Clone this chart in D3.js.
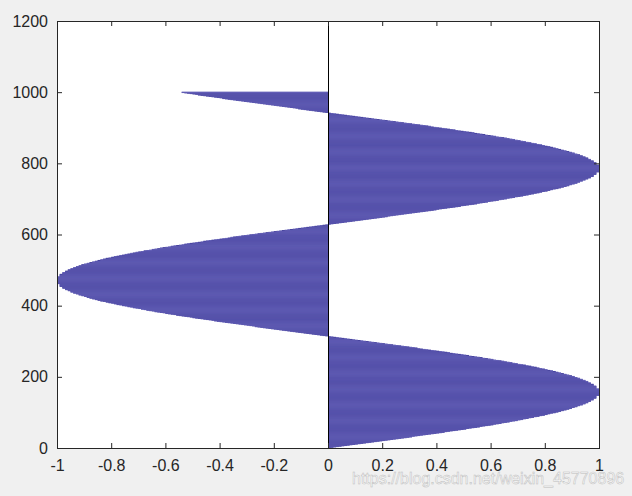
<!DOCTYPE html>
<html>
<head>
<meta charset="utf-8">
<script src="https://cdn.jsdelivr.net/npm/d3@7"></script>
<style>
  body { margin: 0; background: #f0f0f0; }
  svg { display: block; font-family: "Liberation Sans", Arial, sans-serif; }
</style>
</head>
<body>
<script>
// bar lengths in hundredths, one per row 1..1000
const barValues = [
  1,2,3,4,5,6,7,8,9,10,
  11,12,13,14,15,16,17,18,19,20,
  21,22,23,24,25,26,27,28,29,30,
  31,31,32,33,34,35,36,37,38,39,
  40,41,42,43,43,44,45,46,47,48,
  49,50,51,51,52,53,54,55,56,56,
  57,58,59,60,61,61,62,63,64,64,
  65,66,67,67,68,69,70,70,71,72,
  72,73,74,74,75,76,76,77,78,78,
  79,80,80,81,81,82,82,83,84,84,
  85,85,86,86,87,87,88,88,89,89,
  90,90,90,91,91,92,92,92,93,93,
  94,94,94,95,95,95,96,96,96,96,
  97,97,97,97,98,98,98,98,98,99,
  99,99,99,99,99,99,99,100,100,100,
  100,100,100,100,100,100,100,100,100,100,
  100,100,100,100,100,100,99,99,99,99,
  99,99,99,99,98,98,98,98,98,97,
  97,97,97,96,96,96,96,95,95,95,
  94,94,94,93,93,93,92,92,91,91,
  91,90,90,89,89,88,88,87,87,86,
  86,85,85,84,84,83,83,82,81,81,
  80,80,79,78,78,77,77,76,75,75,
  74,73,73,72,71,70,70,69,68,68,
  67,66,65,65,64,63,62,61,61,60,
  59,58,57,57,56,55,54,53,52,52,
  51,50,49,48,47,46,45,45,44,43,
  42,41,40,39,38,37,36,35,34,33,
  33,32,31,30,29,28,27,26,25,24,
  23,22,21,20,19,18,17,16,15,14,
  13,12,11,10,9,8,7,6,5,4,
  3,2,1,0,-1,-2,-3,-4,-5,-6,
  -7,-8,-9,-10,-11,-12,-13,-14,-15,-16,
  -17,-18,-19,-20,-21,-22,-23,-24,-25,-26,
  -27,-27,-28,-29,-30,-31,-32,-33,-34,-35,
  -36,-37,-38,-39,-40,-41,-42,-42,-43,-44,
  -45,-46,-47,-48,-49,-50,-50,-51,-52,-53,
  -54,-55,-56,-56,-57,-58,-59,-60,-60,-61,
  -62,-63,-64,-64,-65,-66,-67,-67,-68,-69,
  -69,-70,-71,-72,-72,-73,-74,-74,-75,-76,
  -76,-77,-78,-78,-79,-79,-80,-81,-81,-82,
  -82,-83,-84,-84,-85,-85,-86,-86,-87,-87,
  -88,-88,-89,-89,-89,-90,-90,-91,-91,-92,
  -92,-92,-93,-93,-94,-94,-94,-95,-95,-95,
  -95,-96,-96,-96,-97,-97,-97,-97,-98,-98,
  -98,-98,-98,-99,-99,-99,-99,-99,-99,-99,
  -99,-100,-100,-100,-100,-100,-100,-100,-100,-100,
  -100,-100,-100,-100,-100,-100,-100,-100,-100,-100,
  -100,-99,-99,-99,-99,-99,-99,-99,-98,-98,
  -98,-98,-98,-97,-97,-97,-97,-96,-96,-96,
  -96,-95,-95,-95,-94,-94,-94,-93,-93,-93,
  -92,-92,-91,-91,-91,-90,-90,-89,-89,-88,
  -88,-87,-87,-86,-86,-85,-85,-84,-84,-83,
  -83,-82,-82,-81,-80,-80,-79,-79,-78,-77,
  -77,-76,-75,-75,-74,-73,-73,-72,-71,-71,
  -70,-69,-68,-68,-67,-66,-65,-65,-64,-63,
  -62,-62,-61,-60,-59,-58,-58,-57,-56,-55,
  -54,-53,-53,-52,-51,-50,-49,-48,-47,-46,
  -46,-45,-44,-43,-42,-41,-40,-39,-38,-37,
  -36,-36,-35,-34,-33,-32,-31,-30,-29,-28,
  -27,-26,-25,-24,-23,-22,-21,-20,-19,-18,
  -17,-16,-15,-14,-13,-12,-11,-10,-9,-8,
  -7,-6,-5,-4,-3,-2,-1,0,1,2,
  3,4,5,6,7,8,9,10,11,12,
  13,14,15,16,17,18,19,20,21,22,
  22,23,24,25,26,27,28,29,30,31,
  32,33,34,35,36,37,38,39,40,40,
  41,42,43,44,45,46,47,48,49,49,
  50,51,52,53,54,55,55,56,57,58,
  59,59,60,61,62,63,63,64,65,66,
  66,67,68,69,69,70,71,72,72,73,
  74,74,75,76,76,77,78,78,79,79,
  80,81,81,82,82,83,83,84,85,85,
  86,86,87,87,88,88,89,89,89,90,
  90,91,91,92,92,92,93,93,93,94,
  94,94,95,95,95,96,96,96,97,97,
  97,97,98,98,98,98,98,98,99,99,
  99,99,99,99,99,100,100,100,100,100,
  100,100,100,100,100,100,100,100,100,100,
  100,100,100,100,100,99,99,99,99,99,
  99,99,98,98,98,98,98,97,97,97,
  97,96,96,96,96,95,95,95,94,94,
  94,93,93,93,92,92,91,91,91,90,
  90,89,89,88,88,87,87,86,86,85,
  85,84,84,83,83,82,82,81,80,80,
  79,79,78,77,77,76,75,75,74,73,
  73,72,71,71,70,69,69,68,67,66,
  66,65,64,63,62,62,61,60,59,58,
  58,57,56,55,54,54,53,52,51,50,
  49,48,47,47,46,45,44,43,42,41,
  40,39,38,38,37,36,35,34,33,32,
  31,30,29,28,27,26,25,24,23,22,
  21,20,19,18,17,16,15,14,13,12,
  11,10,9,8,7,6,5,4,3,2,
  1,0,-1,-2,-3,-4,-5,-6,-7,-8,
  -9,-10,-11,-11,-12,-13,-14,-15,-16,-17,
  -18,-19,-20,-21,-22,-23,-24,-25,-26,-27,
  -28,-29,-30,-31,-32,-33,-34,-35,-36,-37,
  -38,-39,-39,-40,-41,-42,-43,-44,-45,-46,
  -47,-48,-48,-49,-50,-51,-52,-53,-54,-54
];

const xTicks = [-1, -0.8, -0.6, -0.4, -0.2, 0, 0.2, 0.4, 0.6, 0.8, 1];
const xTickLabels = ["-1", "-0.8", "-0.6", "-0.4", "-0.2", "0", "0.2", "0.4", "0.6", "0.8", "1"];
const yTicks = [0, 200, 400, 600, 800, 1000, 1200];
const yTickLabels = ["0", "200", "400", "600", "800", "1000", "1200"];

// chart size
const width = 632;
const height = 496;
const plotLeft = 57, plotRight = 599, plotTop = 21, plotBottom = 448;
const axisColor = "#262626";

// scales
const xScale = d3.scaleLinear().domain([-1, 1]).range([plotLeft, plotRight]);
const yScale = d3.scaleLinear().domain([0, 1200]).range([plotBottom, plotTop]);

// svg
const svg = d3.select("body")
    .append("svg")
    .attr("width", width)
    .attr("height", height);

// white plot area
svg.append("rect")
    .attr("x", plotLeft)
    .attr("y", plotTop)
    .attr("width", plotRight - plotLeft)
    .attr("height", plotBottom - plotTop)
    .attr("fill", "#ffffff");

// bars, row i+1 for each value (a little taller than a row so that the
// thin anti-aliased bars blend into a solid area like the reference)
svg.append("g")
    .selectAll("rect")
    .data(barValues)
    .enter()
    .append("rect")
    .attr("x", d => xScale(Math.min(0, d / 100)))
    .attr("y", (d, i) => Math.max(plotTop, yScale(i + 1.5) - 0.35))
    .attr("width", d => Math.abs(xScale(d / 100) - xScale(0)))
    .attr("height", (d, i) => yScale(i + 0.5) - yScale(i + 1.5) + 0.7)
    .attr("fill", (d, i) => i % 3 === 1 ? "#48449f" : "#625eb5");

// baseline at 0
svg.append("line")
    .attr("x1", Math.round(xScale(0)) + 0.5)
    .attr("x2", Math.round(xScale(0)) + 0.5)
    .attr("y1", plotTop)
    .attr("y2", plotBottom)
    .attr("stroke", "#000000")
    .attr("stroke-width", 1);

// axes, ticks pointing inwards
const bottomAxis = d3.axisBottom(xScale)
    .tickValues(xTicks)
    .tickFormat((d, i) => xTickLabels[i])
    .tickSizeInner(-5)
    .tickSizeOuter(0)
    .tickPadding(12);

const topAxis = d3.axisTop(xScale)
    .tickValues(xTicks)
    .tickFormat("")
    .tickSizeInner(-5)
    .tickSizeOuter(0);

const leftAxis = d3.axisLeft(yScale)
    .tickValues(yTicks)
    .tickFormat((d, i) => yTickLabels[i])
    .tickSizeInner(-5)
    .tickSizeOuter(0)
    .tickPadding(9);

const rightAxis = d3.axisRight(yScale)
    .tickValues(yTicks)
    .tickFormat("")
    .tickSizeInner(-5)
    .tickSizeOuter(0);

const axes = [
    [bottomAxis, "translate(0," + plotBottom + ")"],
    [topAxis, "translate(0," + plotTop + ")"],
    [leftAxis, "translate(" + plotLeft + ",0)"],
    [rightAxis, "translate(" + plotRight + ",0)"]
];

axes.forEach(([axis, tr]) => {
    const g = svg.append("g")
        .attr("transform", tr)
        .call(axis);
    g.select(".domain").remove();
    g.selectAll("line").attr("stroke", axisColor);
    g.selectAll("text")
        .attr("fill", axisColor)
        .style("font-size", "16px")
        .style("font-family", "'Liberation Sans', Arial, sans-serif");
});

// box
svg.append("rect")
    .attr("x", plotLeft + 0.5)
    .attr("y", plotTop + 0.5)
    .attr("width", plotRight - plotLeft)
    .attr("height", plotBottom - plotTop)
    .attr("fill", "none")
    .attr("stroke", axisColor)
    .attr("stroke-width", 1);

// watermark
svg.append("text")
    .attr("x", 352)
    .attr("y", 484)
    .attr("fill", "#ffffff")
    .attr("fill-opacity", 0.8)
    .attr("stroke", "#bdbdbd")
    .attr("stroke-width", 0.5)
    .style("font-size", "16px")
    .text("https://blog.csdn.net/weixin_45770896");
</script>
</body>
</html>
